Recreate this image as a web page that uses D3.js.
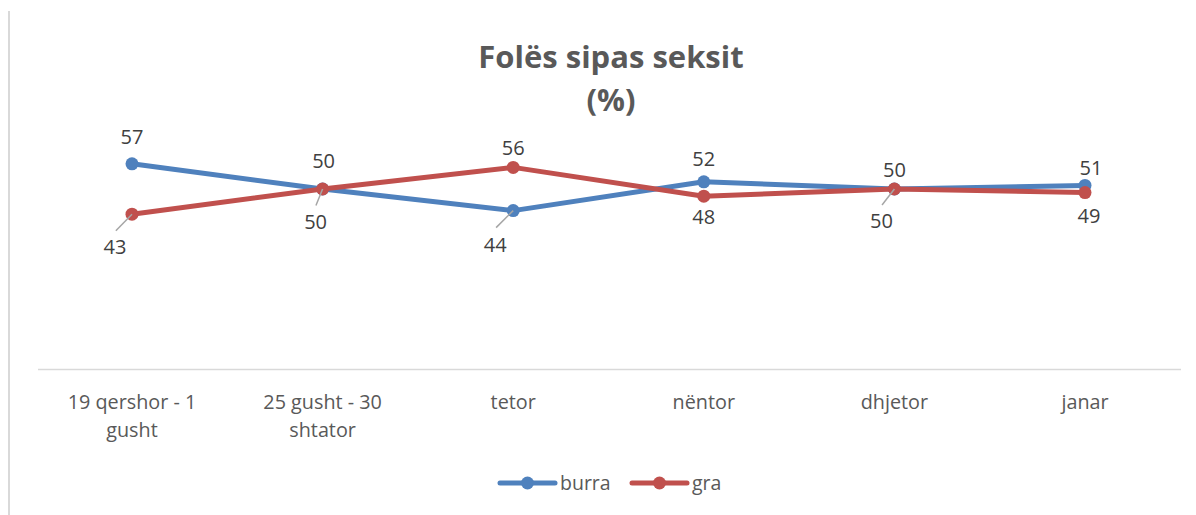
<!DOCTYPE html>
<html><head><meta charset="utf-8">
<script src="https://cdn.jsdelivr.net/npm/d3@7"></script>
<style>
html,body{margin:0;padding:0;background:#fff;}
svg{display:block;}
text{font-family:"Open Sans",Lato,sans-serif;}
</style></head>
<body><svg id="chart" width="1196" height="515"></svg>
<script>
const categories = [["19 qershor - 1","gusht"],["25 gusht - 30","shtator"],["tetor"],["nëntor"],["dhjetor"],["janar"]];
const burra = [57, 50, 44, 52, 50, 51];
const gra = [43, 50, 56, 48, 50, 49];
const seriesNames = ["burra", "gra"];
const titleLines = ["Folës sipas seksit", "(%)"];

// label placement (offsets in px from the point), leader flag
const burraLabelPos = [[0,-27,false],[1,-28,false],[-18,34,true],[0,-23,false],[0,-19,false],[6,-18,false]];
const graLabelPos   = [[-17,33,true],[-7,33,true],[0,-20,false],[0,21,false],[-13,32,true],[4,23,false]];

const W = 1196, H = 515;
const svg = d3.select("#chart");
const colors = {burra:"#4F81BD", gra:"#C0504D"};

// frame left border
svg.append("line").attr("x1",9).attr("x2",9).attr("y1",11).attr("y2",H)
  .attr("stroke","#d9d9d9").attr("stroke-width",2);

const x = d3.scalePoint().domain(d3.range(categories.length)).range([132, 1085]);
const y = d3.scaleLinear().domain([0, 100]).range([369, 9]);

// axis line
svg.append("line").attr("x1",38).attr("x2",1181).attr("y1",369.5).attr("y2",369.5)
  .attr("stroke","#d9d9d9").attr("stroke-width",1.5);

// category labels
const xAxis = svg.append("g");
categories.forEach((lines,i)=>{
  const t = xAxis.append("text").attr("x", x(i)).attr("y", 409)
    .attr("text-anchor","middle").attr("fill","#595959").style("font-size","19.8px");
  lines.forEach((l,j)=>t.append("tspan").attr("x",x(i)).attr("dy", j===0?0:28).text(l));
});

// title
const title = svg.append("text").attr("text-anchor","middle").attr("fill","#595959")
  .style("font-size","31px").style("font-weight","bold");
titleLines.forEach((l,j)=>title.append("tspan").attr("x",611).attr("y", 68 + j*43).text(l));

const line = d3.line().x((d,i)=>x(i)).y(d=>y(d));

function drawSeries(vals, name){
  svg.append("path").datum(vals).attr("d", line).attr("fill","none")
    .attr("stroke", colors[name]).attr("stroke-width",5).attr("stroke-linejoin","round");
  svg.selectAll(null).data(vals).enter().append("circle")
    .attr("cx",(d,i)=>x(i)).attr("cy",d=>y(d)).attr("r",6.5).attr("fill",colors[name]);
}
drawSeries(burra, "burra");
drawSeries(gra, "gra");

function drawLabels(vals, pos){
  vals.forEach((v,i)=>{
    const [dx,dy,leader] = pos[i];
    const px = x(i), py = y(v);
    if(leader){
      const lx = px + dx*0.95, ly = py + dy*0.5;
      svg.append("line").attr("x1",px).attr("y1",py).attr("x2",lx).attr("y2",ly)
        .attr("stroke","#a6a6a6").attr("stroke-width",1.5);
    }
    svg.append("text").attr("x", px+dx).attr("y", py+dy).attr("dy","0.36em")
      .attr("text-anchor","middle").attr("fill","#404040").style("font-size","20px").text(v);
  });
}
drawLabels(burra, burraLabelPos);
drawLabels(gra, graLabelPos);

// legend
const legend = svg.append("g");
const legendItems = [{name:seriesNames[0], x0:500},{name:seriesNames[1], x0:632}];
legendItems.forEach(it=>{
  legend.append("line").attr("x1",it.x0).attr("x2",it.x0+55).attr("y1",483).attr("y2",483)
    .attr("stroke",colors[it.name]).attr("stroke-width",5).attr("stroke-linecap","round");
  legend.append("circle").attr("cx",it.x0+27.5).attr("cy",483).attr("r",6.5).attr("fill",colors[it.name]);
  legend.append("text").attr("x",it.x0+60).attr("y",483).attr("dy","0.36em")
    .attr("fill","#595959").style("font-size","19.5px").text(it.name);
});
</script></body></html>
